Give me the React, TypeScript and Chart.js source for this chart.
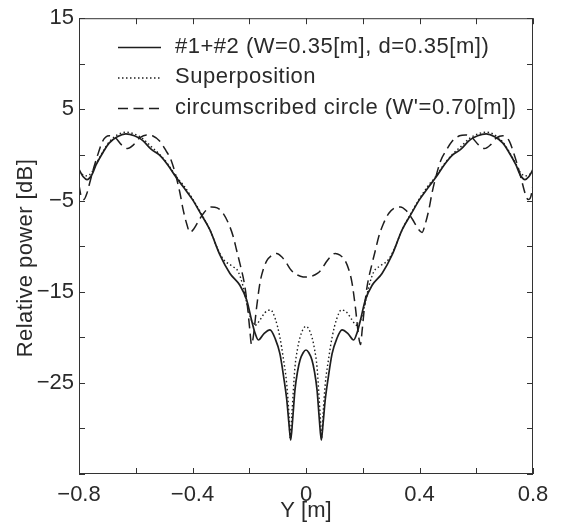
import React, { useEffect, useRef } from "react";
import { Chart, registerables } from "chart.js";

Chart.register(...registerables);

// ---- data ----
const solidX = [-0.8,-0.785,-0.772,-0.755,-0.74,-0.715,-0.694,-0.665,-0.635,-0.605,-0.576,-0.545,-0.517,-0.487,-0.459,-0.43,-0.4,-0.37,-0.339,-0.303,-0.268,-0.233,-0.209,-0.192,-0.18,-0.168,-0.148,-0.127,-0.108,-0.092,-0.078,-0.068,-0.06,-0.054,-0.047,-0.039,-0.03,-0.021,-0.01,0,
  0.01,0.021,0.03,0.039,0.047,0.054,0.06,0.068,0.078,0.092,0.108,0.127,0.148,0.168,0.18,0.192,0.209,0.233,0.268,0.303,0.339,0.37,0.4,0.43,0.459,0.487,0.517,0.545,0.576,0.605,0.635,0.665,0.694,0.715,0.74,0.755,0.772,0.785,0.8];
const solidY = [-1.6,-2.4,-2.7,-2.2,-1.1,0.3,1.3,2.0,2.3,2.1,1.6,0.6,0.0,-1.1,-2.4,-3.6,-4.9,-6.5,-8.2,-11.0,-13.0,-14.3,-15.9,-18.1,-19.5,-20.3,-19.6,-19.2,-20.2,-21.8,-24.5,-26.8,-29.5,-31.3,-29.0,-25.8,-23.8,-22.5,-21.7,-21.4,
  -21.7,-22.5,-23.8,-25.8,-29.0,-31.3,-29.5,-26.8,-24.5,-21.8,-20.2,-19.2,-19.6,-20.3,-19.5,-18.1,-15.9,-14.3,-13.0,-11.0,-8.2,-6.5,-4.9,-3.6,-2.4,-1.1,0.0,0.6,1.6,2.1,2.3,2.0,1.3,0.3,-1.1,-2.2,-2.7,-2.4,-1.6];

const dottedX = [-0.8,-0.785,-0.772,-0.755,-0.74,-0.715,-0.694,-0.665,-0.635,-0.605,-0.576,-0.545,-0.517,-0.487,-0.459,-0.43,-0.4,-0.37,-0.339,-0.31,-0.29,-0.26,-0.239,-0.221,-0.209,-0.195,-0.18,-0.16,-0.145,-0.125,-0.108,-0.092,-0.08,-0.068,-0.06,-0.056,-0.05,-0.039,-0.03,-0.021,-0.01,0,
  0.01,0.021,0.03,0.039,0.05,0.056,0.06,0.068,0.08,0.092,0.108,0.125,0.145,0.16,0.18,0.195,0.209,0.221,0.239,0.26,0.29,0.31,0.339,0.37,0.4,0.43,0.459,0.487,0.517,0.545,0.576,0.605,0.635,0.665,0.694,0.715,0.74,0.755,0.772,0.785,0.8];
const dottedY = [-1.8,-2.2,-2.3,-1.9,-1.0,0.4,1.4,2.2,2.5,2.3,1.8,0.9,0.1,-1.0,-2.3,-3.4,-4.8,-6.4,-8.2,-10.4,-11.5,-12.2,-12.8,-14.5,-16.2,-17.9,-18.7,-18.0,-17.3,-17.0,-18.0,-20.0,-22.3,-25.1,-28.5,-31.0,-28.5,-23.3,-21.3,-20.0,-19.1,-18.8,
  -19.1,-20.0,-21.3,-23.3,-28.5,-31.0,-28.5,-25.1,-22.3,-20.0,-18.0,-17.0,-17.3,-18.0,-18.7,-17.9,-16.2,-14.5,-12.8,-12.2,-11.5,-10.4,-8.2,-6.4,-4.8,-3.4,-2.3,-1.0,0.1,0.9,1.8,2.3,2.5,2.2,1.4,0.4,-1.0,-1.9,-2.3,-2.2,-1.8];

const dashedX = [-0.8,-0.792,-0.783,-0.772,-0.76,-0.747,-0.732,-0.717,-0.694,-0.672,-0.65,-0.629,-0.608,-0.585,-0.562,-0.541,-0.515,-0.494,-0.475,-0.456,-0.444,-0.433,-0.42,-0.409,-0.395,-0.374,-0.353,-0.333,-0.313,-0.292,-0.272,-0.256,-0.245,-0.233,-0.215,-0.205,-0.198,-0.192,-0.186,-0.174,-0.162,-0.151,-0.138,-0.12,-0.103,-0.085,-0.07,-0.056,-0.04,-0.02,0,
  0.02,0.04,0.056,0.07,0.085,0.103,0.12,0.138,0.151,0.162,0.174,0.186,0.192,0.198,0.205,0.215,0.233,0.245,0.256,0.272,0.292,0.313,0.333,0.353,0.374,0.395,0.409,0.42,0.433,0.444,0.456,0.475,0.494,0.515,0.541,0.562,0.585,0.608,0.629,0.65,0.672,0.694,0.717,0.732,0.747,0.76,0.772,0.783,0.792,0.8];
const dashedY = [-3.3,-4.6,-4.9,-4.2,-2.8,-1.3,0.2,1.5,2.1,1.9,1.1,0.7,1.1,1.9,2.2,2.1,1.5,0.5,-0.6,-2.6,-4.2,-6.0,-7.6,-8.5,-8.1,-7.0,-6.1,-5.7,-5.8,-6.4,-7.6,-9.0,-10.4,-11.9,-14.5,-17.0,-19.2,-20.8,-20.0,-16.7,-14.0,-12.6,-11.6,-11.0,-10.8,-11.2,-11.8,-12.5,-13.0,-13.3,-13.4,
  -13.3,-13.0,-12.5,-11.8,-11.2,-10.8,-11.0,-11.6,-12.6,-14.0,-16.7,-20.0,-20.8,-19.2,-17.0,-14.5,-11.9,-10.4,-9.0,-7.6,-6.4,-5.8,-5.7,-6.1,-7.0,-8.1,-8.5,-7.6,-6.0,-4.2,-2.6,-0.6,0.5,1.5,2.1,2.2,1.9,1.1,0.7,1.1,1.9,2.1,1.5,0.2,-1.3,-2.8,-4.2,-4.9,-4.6,-3.3];

const seriesLabels = [
  "#1+#2 (W=0.35[m], d=0.35[m])",
  "Superposition",
  "circumscribed circle (W'=0.70[m])",
];
const xLabeledTicks = [-0.8, -0.4, 0, 0.4, 0.8];
const yLabeledTicks = [15, 5, -5, -15, -25];
const xTitle = "Y [m]";
const yTitle = "Relative power [dB]";

const FONT = "Liberation Sans";
const FSIZE = 22;
const LINE = "#1e1e1e";
const TEXT = "#2a2a2a";

function pts(xs: number[], ys: number[]) {
  return xs.map((x, i) => ({ x, y: ys[i] }));
}
function fmt(v: number) {
  const s = String(Math.abs(v));
  return v < 0 ? "\u2212" + s : s;
}

const frame = {
  id: "frame",
  afterDraw(chart: any) {
    const { ctx, chartArea: a, scales } = chart;
    ctx.save();
    ctx.strokeStyle = "#333";
    ctx.lineWidth = 1;
    ctx.setLineDash([]);
    ctx.strokeRect(a.left + 0.5, a.top + 0.5, a.right - a.left - 1, a.bottom - a.top - 1);
    const tl = 6;
    ctx.beginPath();
    scales.x.ticks.forEach((t: any) => {
      const px = Math.round(scales.x.getPixelForValue(t.value)) + 0.5;
      ctx.moveTo(px, a.bottom);
      ctx.lineTo(px, a.bottom - tl);
      ctx.moveTo(px, a.top);
      ctx.lineTo(px, a.top + tl);
    });
    scales.y.ticks.forEach((t: any) => {
      const py = Math.round(scales.y.getPixelForValue(t.value)) + 0.5;
      ctx.moveTo(a.left, py);
      ctx.lineTo(a.left + tl, py);
      ctx.moveTo(a.right, py);
      ctx.lineTo(a.right - tl, py);
    });
    ctx.stroke();

    // y-axis title
    ctx.fillStyle = TEXT;
    ctx.font = `${FSIZE}px "${FONT}"`;
    ctx.save();
    ctx.translate(26, 258);
    ctx.rotate(-Math.PI / 2);
    ctx.textAlign = "center";
    ctx.textBaseline = "middle";
    (ctx as any).letterSpacing = "0.4px";
    ctx.fillText(yTitle, 0, 0);
    ctx.restore();

    // legend
    const lineRows = [47, 77.5, 108];
    ctx.textBaseline = "alphabetic";
    ctx.textAlign = "left";
    (ctx as any).letterSpacing = "0.5px";
    chart.data.datasets.forEach((ds: any, i: number) => {
      const y = lineRows[i] + 0.5;
      ctx.strokeStyle = ds.borderColor;
      ctx.lineWidth = ds.borderWidth;
      ctx.setLineDash(ds.borderDash || []);
      ctx.beginPath();
      ctx.moveTo(118, y);
      ctx.lineTo(161, y);
      ctx.stroke();
      ctx.fillStyle = TEXT;
      ctx.fillText(ds.label, 175, lineRows[i] + 5.5);
    });
    (ctx as any).letterSpacing = "0px";
    ctx.restore();
  },
};

export default function App() {
  const ref = useRef<HTMLCanvasElement>(null);
  useEffect(() => {
    if (!ref.current) return;
    const chart = new Chart(ref.current, {
      type: "line",
      data: {
        datasets: [
          { label: seriesLabels[0], data: pts(solidX, solidY), borderColor: LINE, borderWidth: 1.7, borderDash: [], pointRadius: 0, cubicInterpolationMode: "monotone", fill: false },
          { label: seriesLabels[1], data: pts(dottedX, dottedY), borderColor: LINE, borderWidth: 1.4, borderDash: [1.5, 2.5], pointRadius: 0, cubicInterpolationMode: "monotone", fill: false },
          { label: seriesLabels[2], data: pts(dashedX, dashedY), borderColor: LINE, borderWidth: 1.5, borderDash: [10, 5.5], pointRadius: 0, cubicInterpolationMode: "monotone", fill: false },
        ],
      },
      options: {
        animation: false,
        responsive: false,
        maintainAspectRatio: false,
        layout: { padding: { left: 0, right: 31, top: 18, bottom: 0 } },
        plugins: { legend: { display: false }, tooltip: { enabled: false } },
        scales: {
          x: {
            type: "linear",
            min: -0.8,
            max: 0.8,
            grid: { display: false, drawTicks: false },
            border: { display: false },
            ticks: {
              stepSize: 0.2,
              autoSkip: false,
              maxRotation: 0,
              padding: 8,
              color: TEXT,
              font: { family: FONT, size: FSIZE },
              callback: (v: any) => {
                const r = Math.round(Number(v) * 10) / 10;
                return xLabeledTicks.some((t) => Math.abs(t - r) < 1e-6) ? fmt(r) : "";
              },
            },
            title: { display: true, text: xTitle, color: TEXT, font: { family: FONT, size: FSIZE }, padding: { top: 0, bottom: 0 } },
            afterFit: (s: any) => { s.height = 50; },
          },
          y: {
            type: "linear",
            min: -35,
            max: 15,
            grid: { display: false, drawTicks: false },
            border: { display: false },
            ticks: {
              stepSize: 5,
              autoSkip: false,
              padding: 5,
              color: TEXT,
              font: { family: FONT, size: FSIZE },
              callback: (v: any) => {
                const r = Math.round(Number(v));
                return yLabeledTicks.includes(r) ? fmt(r) : "";
              },
            },
            title: { display: false },
            afterFit: (s: any) => { s.width = 79; },
          },
        },
      },
      plugins: [frame],
    });
    return () => chart.destroy();
  }, []);
  return (
    <canvas
      ref={ref}
      width={564}
      height={524}
      style={{ position: "absolute", left: 0, top: 0, width: 564, height: 524, background: "#fff" }}
    />
  );
}
